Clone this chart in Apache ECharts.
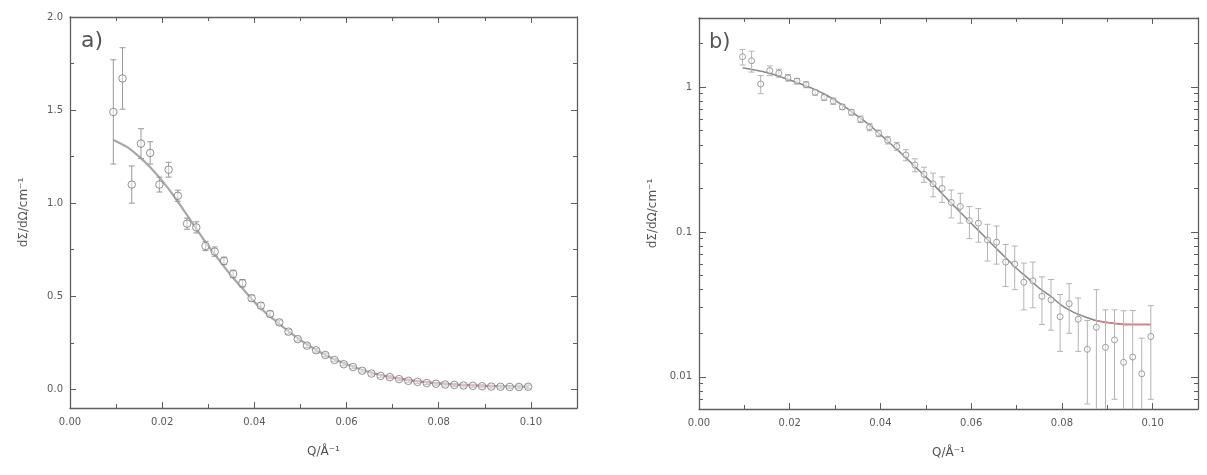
<!DOCTYPE html>
<html>
<head>
<meta charset="utf-8">
<script src="https://cdn.jsdelivr.net/npm/echarts@6/dist/echarts.min.js"></script>
<style>
html,body{margin:0;padding:0;background:#fff;}
#c{width:1207px;height:475px;}
</style>
</head>
<body>
<div id="c"></div>
<script>
// ---------------- data: panel a (linear) ----------------
const aQ = [0.0094,0.0114,0.0134,0.0154,0.0174,0.0194,0.0214,0.0234,0.0254,0.0274,
            0.0294,0.0314,0.0334,0.0354,0.0374,0.0394,0.0414,0.0434,0.0454,0.0474,
            0.0494,0.0514,0.0534,0.0554,0.0574,0.0594,0.0614,0.0634,0.0654,0.0674,
            0.0694,0.0714,0.0734,0.0754,0.0774,0.0794,0.0814,0.0834,0.0854,0.0874,
            0.0894,0.0914,0.0934,0.0954,0.0974,0.0994];
const aV = [1.49,1.67,1.10,1.32,1.27,1.10,1.18,1.04,0.89,0.87,
            0.77,0.74,0.69,0.62,0.57,0.49,0.45,0.405,0.36,0.31,
            0.27,0.235,0.21,0.185,0.158,0.135,0.12,0.10,0.085,0.072,
            0.066,0.055,0.046,0.040,0.034,0.030,0.026,0.024,0.021,0.019,
            0.017,0.015,0.014,0.013,0.013,0.014];
const aErr = [0.28,0.165,0.10,0.08,0.06,0.04,0.04,0.03,0.03,0.03,
              0.025,0.025,0.02,0.02,0.02,0.015,0.015,0.015,0.012,0.012,
              0.01,0.01,0.01,0.01,0.008,0.008,0.008,0.008,0.008,0.008,
              0.008,0.008,0.008,0.008,0.008,0.008,0.008,0.008,0.008,0.008,
              0.008,0.008,0.008,0.008,0.01,0.01];
const aFitQ = [0.0094,0.0125,0.015,0.0175,0.02,0.0225,0.025,0.0275,0.03,0.0325,0.035,0.0375,0.04,
               0.0425,0.045,0.0475,0.05,0.0525,0.055,0.0575,0.06,0.0625,0.065,0.0675,0.07,
               0.0725,0.075,0.0775,0.08,0.0825,0.085,0.0875,0.09,0.0925,0.095,0.0975,0.0994];
const aFitV = [1.34,1.30,1.25,1.19,1.12,1.04,0.95,0.86,0.77,0.69,0.61,0.54,0.47,
               0.41,0.36,0.31,0.265,0.225,0.19,0.16,0.135,0.112,0.092,0.077,0.064,
               0.054,0.045,0.038,0.032,0.028,0.024,0.021,0.019,0.017,0.016,0.015,0.014];
const aRedRange = [0.065, 0.0925];

// ---------------- data: panel b (log) ----------------
const bQ = [0.0096,0.0116,0.0136,0.0156,0.0176,0.0196,0.0216,0.0236,0.0256,0.0276,
            0.0296,0.0316,0.0336,0.0356,0.0376,0.0396,0.0416,0.0436,0.0456,0.0476,
            0.0496,0.0516,0.0536,0.0556,0.0576,0.0596,0.0616,0.0636,0.0656,0.0676,
            0.0696,0.0716,0.0736,0.0756,0.0776,0.0796,0.0816,0.0836,0.0856,0.0876,
            0.0896,0.0916,0.0936,0.0956,0.0976,0.0996];
const bV = [1.62,1.52,1.05,1.30,1.25,1.16,1.10,1.04,0.92,0.85,
            0.80,0.73,0.67,0.60,0.53,0.48,0.43,0.39,0.34,0.29,
            0.25,0.215,0.20,0.16,0.15,0.12,0.115,0.088,0.085,0.062,
            0.060,0.045,0.046,0.036,0.034,0.026,0.032,0.025,0.0155,0.022,
            0.016,0.018,0.0126,0.0137,0.0105,0.019];
const bErr = [0.2,0.25,0.15,0.1,0.08,0.06,0.05,0.05,0.04,0.04,
              0.04,0.03,0.03,0.03,0.03,0.025,0.025,0.025,0.03,0.03,
              0.03,0.04,0.04,0.035,0.035,0.03,0.03,0.025,0.025,0.02,
              0.02,0.016,0.016,0.013,0.013,0.011,0.012,0.01,0.009,0.018,
              0.013,0.011,0.016,0.015,0.008,0.012];
const bFitQ = [0.0096,0.0125,0.015,0.0175,0.02,0.0225,0.025,0.0275,0.03,0.0325,0.035,0.0375,0.04,
               0.0425,0.045,0.0475,0.05,0.0525,0.055,0.0575,0.06,0.0625,0.065,0.0675,0.07,
               0.0725,0.075,0.0775,0.08,0.0825,0.085,0.0875,0.09,0.0925,0.095,0.0975,0.0996];
const bFitV = [1.36,1.31,1.26,1.19,1.12,1.05,0.98,0.90,0.81,0.72,0.63,0.55,0.47,
               0.40,0.34,0.285,0.24,0.20,0.165,0.138,0.115,0.096,0.08,0.067,0.056,
               0.048,0.041,0.036,0.031,0.028,0.026,0.0245,0.0237,0.0232,0.023,0.023,0.023];
const bRedRange = [0.0865, 0.0996];

// ---------------- ticks ----------------
const xMajor = [0, 0.02, 0.04, 0.06, 0.08, 0.10];
const xMinor = [0.01, 0.03, 0.05, 0.07, 0.09];
const aYMajor = [0, 0.5, 1.0, 1.5, 2.0];
const aYMinor = [0.25, 0.75, 1.25, 1.75];
const bYMajor = [0.01, 0.1, 1];
const bYMinor = [0.006,0.007,0.008,0.009,0.02,0.03,0.04,0.05,0.06,0.07,0.08,0.09,
                 0.2,0.3,0.4,0.5,0.6,0.7,0.8,0.9,2,3];
const xRange = [0, 0.11];
const aYRange = [-0.1, 2.0];
const bYRange = [0.006, 3];

// ---------------- helpers ----------------
const FONT = 'DejaVu Sans';
const AX = '#5e5e5e';
const TXT = '#5a5a5a';
const zip = (xs, ys) => xs.map((x, i) => [x, ys[i]]);
const zip3 = (xs, ys, es) => xs.map((x, i) => [x, ys[i], es[i]]);
const inRange = (pts, r) => pts.filter(p => p[0] >= r[0] - 1e-9 && p[0] <= r[1] + 1e-9);

function mkX(grid, pos, ticks, len, main, name) {
  return {
    type: 'value', gridIndex: grid, position: pos, min: xRange[0], max: xRange[1],
    axisLine: { show: main, onZero: false, lineStyle: { color: AX, width: 1.3 } },
    axisTick: { show: true, inside: true, length: len, customValues: ticks, lineStyle: { color: AX, width: 1 } },
    axisLabel: (main && pos === 'bottom') ? {
      show: true, customValues: xMajor, margin: 9, color: TXT, fontFamily: FONT, fontSize: 10,
      formatter: v => v.toFixed(2)
    } : { show: false },
    splitLine: { show: false },
    name: name || '', nameLocation: 'middle', nameGap: 38,
    nameTextStyle: { color: '#555', fontFamily: FONT, fontSize: 12 }
  };
}
function mkY(grid, pos, type, range, ticks, labels, len, main, fmt, name) {
  return {
    type: type, gridIndex: grid, position: pos, min: range[0], max: range[1],
    logBase: 10,
    axisLine: { show: main, onZero: false, lineStyle: { color: AX, width: 1.3 } },
    axisTick: { show: true, inside: true, length: len, customValues: ticks, lineStyle: { color: AX, width: 1 } },
    axisLabel: (main && pos === 'left') ? {
      show: true, customValues: labels, margin: 7, color: TXT, fontFamily: FONT, fontSize: 10,
      formatter: fmt
    } : { show: false },
    splitLine: { show: false },
    name: name || '', nameLocation: 'middle', nameGap: 40, nameRotate: 90,
    nameTextStyle: { color: '#555', fontFamily: FONT, fontSize: 12 }
  };
}

function errRenderer(clampMin, color) {
  return function (params, api) {
    const x = api.value(0), y = api.value(1), e = api.value(2);
    let lo = y - e, clamped = false;
    if (lo < clampMin) { lo = clampMin; clamped = true; }
    const hi = y + e;
    const p1 = api.coord([x, hi]);
    const p2 = api.coord([x, lo]);
    const w = 3;
    const st = { stroke: color, lineWidth: 1 };
    const ch = [
      { type: 'line', shape: { x1: p1[0], y1: p1[1], x2: p2[0], y2: p2[1] }, style: st },
      { type: 'line', shape: { x1: p1[0] - w, y1: p1[1], x2: p1[0] + w, y2: p1[1] }, style: st }
    ];
    if (!clamped) ch.push({ type: 'line', shape: { x1: p2[0] - w, y1: p2[1], x2: p2[0] + w, y2: p2[1] }, style: st });
    return { type: 'group', children: ch };
  };
}

const chart = echarts.init(document.getElementById('c'), null, { renderer: 'canvas' });

const option = {
  backgroundColor: '#fff',
  animation: false,
  grid: [
    { left: 70, top: 17, width: 507, height: 391 },
    { left: 699, top: 18, width: 499, height: 391 }
  ],
  xAxis: [
    mkX(0, 'bottom', xMajor, 6, true, 'Q/Å⁻¹'),
    mkX(0, 'top', xMajor, 6, true),
    mkX(0, 'bottom', xMinor, 4, false),
    mkX(0, 'top', xMinor, 4, false),
    mkX(1, 'bottom', xMajor, 6, true, 'Q/Å⁻¹'),
    mkX(1, 'top', xMajor, 6, true),
    mkX(1, 'bottom', xMinor, 4, false),
    mkX(1, 'top', xMinor, 4, false)
  ],
  yAxis: [
    mkY(0, 'left', 'value', aYRange, aYMajor, aYMajor, 6, true, v => v.toFixed(1), 'dΣ/dΩ/cm⁻¹'),
    mkY(0, 'right', 'value', aYRange, aYMajor, aYMajor, 6, true),
    mkY(0, 'left', 'value', aYRange, aYMinor, aYMinor, 4, false),
    mkY(0, 'right', 'value', aYRange, aYMinor, aYMinor, 4, false),
    mkY(1, 'left', 'log', bYRange, bYMajor, bYMajor, 7, true, v => String(+v.toPrecision(3)), 'dΣ/dΩ/cm⁻¹'),
    mkY(1, 'right', 'log', bYRange, bYMajor, bYMajor, 7, true),
    mkY(1, 'left', 'log', bYRange, bYMinor, bYMinor, 4, false),
    mkY(1, 'right', 'log', bYRange, bYMinor, bYMinor, 4, false)
  ],
  graphic: [
    { type: 'text', left: 81, top: 30, style: { text: 'a)', fontFamily: FONT, fontSize: 22, fill: '#555' } },
    { type: 'text', left: 709, top: 32, style: { text: 'b)', fontFamily: FONT, fontSize: 21, fill: '#555' } }
  ],
  series: [
    // panel a
    { type: 'line', xAxisIndex: 0, yAxisIndex: 0, data: zip(aFitQ, aFitV), smooth: 0.3, showSymbol: false,
      lineStyle: { color: '#a8a8a8', width: 2.2 }, z: 1 },
    { type: 'line', xAxisIndex: 0, yAxisIndex: 0, data: inRange(zip(aFitQ, aFitV), aRedRange), smooth: 0.3, showSymbol: false,
      lineStyle: { color: '#d97a86', width: 1.8 }, z: 2 },
    { type: 'custom', xAxisIndex: 0, yAxisIndex: 0, data: zip3(aQ, aV, aErr), renderItem: errRenderer(aYRange[0], '#999'), z: 3, clip: true },
    { type: 'scatter', xAxisIndex: 0, yAxisIndex: 0, data: zip(aQ, aV), symbol: 'circle', symbolSize: 7.5,
      itemStyle: { color: 'rgba(255,255,255,0.6)', borderColor: '#777', borderWidth: 1 }, z: 4 },
    // panel b
    { type: 'line', xAxisIndex: 4, yAxisIndex: 4, data: zip(bFitQ, bFitV), smooth: 0.3, showSymbol: false,
      lineStyle: { color: '#888', width: 1.5 }, z: 1 },
    { type: 'line', xAxisIndex: 4, yAxisIndex: 4, data: inRange(zip(bFitQ, bFitV), bRedRange), smooth: 0.3, showSymbol: false,
      lineStyle: { color: '#e07b8a', width: 1.6 }, z: 2 },
    { type: 'custom', xAxisIndex: 4, yAxisIndex: 4, data: zip3(bQ, bV, bErr), renderItem: errRenderer(bYRange[0], '#b4b4b4'), z: 3, clip: true },
    { type: 'scatter', xAxisIndex: 4, yAxisIndex: 4, data: zip(bQ, bV), symbol: 'circle', symbolSize: 6,
      itemStyle: { color: 'rgba(255,255,255,0.6)', borderColor: '#888', borderWidth: 1 }, z: 4 }
  ]
};
chart.setOption(option);
</script>
</body>
</html>
